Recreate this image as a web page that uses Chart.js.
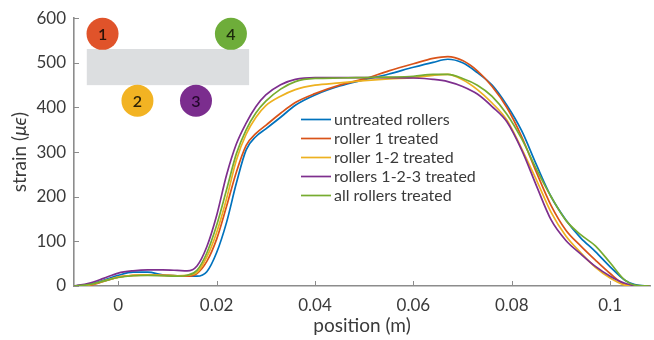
<!DOCTYPE html>
<html>
<head>
<meta charset="utf-8">
<script src="https://cdn.jsdelivr.net/npm/chart.js@4.4.1/dist/chart.umd.min.js"></script>
<style>
  html, body { margin: 0; padding: 0; background: #ffffff; }
  #wrap { width: 654px; height: 340px; }
</style>
</head>
<body>
<div id="wrap"><canvas id="c" width="654" height="340"></canvas></div>
<script>
// Measurement positions along the strip (m)
const positions = [-0.009, -0.006, -0.003, 0, 0.003, 0.006, 0.009, 0.012, 0.014, 0.016,
  0.018, 0.020, 0.022, 0.024, 0.026, 0.028, 0.030, 0.033, 0.036, 0.040,
  0.045, 0.050, 0.055, 0.060, 0.064, 0.067, 0.070, 0.073, 0.076, 0.079,
  0.082, 0.085, 0.088, 0.091, 0.094, 0.097, 0.100, 0.103, 0.105, 0.108];

// Strain readings (microstrain) for each roller treatment
const untreated = [0, 4, 13, 24, 31, 31, 25, 23, 22, 22,
  32, 75, 142, 230, 305, 335, 352, 378, 405, 428,
  448, 462, 475, 490, 501, 508, 500, 478, 450, 405,
  348, 272, 200, 148, 108, 77, 43, 13, 3, 0];
const roller1 = [0, 1, 10, 20, 24, 25, 24, 23, 22, 28,
  55, 105, 178, 255, 315, 342, 360, 387, 411, 431,
  450, 464, 482, 498, 510, 514, 505, 482, 447, 400,
  335, 255, 180, 125, 90, 58, 28, 3, 0, 0];
const roller12 = [0, 2, 11, 20, 24, 25, 24, 23, 24, 30,
  65, 120, 195, 282, 340, 378, 404, 425, 440, 450,
  455, 460, 464, 467, 472, 474, 462, 440, 410, 372,
  308, 238, 165, 112, 75, 42, 18, 2, 0, 0];
const rollers123 = [0, 6, 17, 29, 34, 36, 36, 35, 34, 45,
  88, 158, 248, 318, 365, 402, 428, 451, 463, 467,
  467, 467, 467, 466, 463, 458, 447, 430, 402, 368,
  305, 225, 148, 102, 72, 44, 22, 6, 1, 0];
const allRollers = [0, 3, 11, 19, 23, 24, 23, 22, 24, 35,
  74, 136, 215, 296, 350, 388, 414, 441, 458, 465,
  466, 467, 468, 470, 474, 474, 465, 450, 425, 385,
  330, 262, 200, 147, 115, 90, 52, 13, 2, 0];

const seriesNames = ['untreated rollers', 'roller 1 treated', 'roller 1-2 treated', 'rollers 1-2-3 treated', 'all rollers treated'];
const seriesValues = [untreated, roller1, roller12, rollers123, allRollers];
const seriesColors = ['#0072BD', '#D95319', '#EDB120', '#7E2F8E', '#77AC30'];

const xTicks = [0, 0.02, 0.04, 0.06, 0.08, 0.1];
const xTickLabels = ['0', '0.02', '0.04', '0.06', '0.08', '0.1'];
const yTicks = [0, 100, 200, 300, 400, 500, 600];

// Sketch of the roller arrangement drawn in the upper-left corner (data units)
const stripBox = { x0: -0.0064, x1: 0.0266, y0: 450, y1: 531, color: '#DCDEE0' };
const rollerMarks = [
  { label: '1', x: -0.0032, y: 565, fill: '#E0532A', ink: '#2a1208' },
  { label: '4', x: 0.0229, y: 565, fill: '#6EAD3A', ink: '#1c2a0c' },
  { label: '2', x: 0.0039, y: 415, fill: '#F2B323', ink: '#2e2206' },
  { label: '3', x: 0.0158, y: 415, fill: '#7B2D8E', ink: '#24082c' }
];

const FONT = 'Lato, "Open Sans", sans-serif';
const INK = '#3a3a3a';
const AXIS = '#8c8c8c';

const datasets = seriesNames.map((name, i) => ({
  label: name,
  data: positions.map((p, k) => ({ x: p, y: seriesValues[i][k] })),
  borderColor: seriesColors[i],
  backgroundColor: seriesColors[i],
  borderWidth: 1.7,
  pointRadius: 0,
  cubicInterpolationMode: 'monotone',
  fill: false,
  order: seriesNames.length - i
}));

const decorations = {
  id: 'decorations',
  beforeDatasetsDraw(chart) {
    const { ctx, scales: { x, y } } = chart;
    ctx.save();
    // strip
    const bx0 = x.getPixelForValue(stripBox.x0), bx1 = x.getPixelForValue(stripBox.x1);
    const by0 = y.getPixelForValue(stripBox.y1), by1 = y.getPixelForValue(stripBox.y0);
    ctx.fillStyle = stripBox.color;
    ctx.fillRect(bx0, by0, bx1 - bx0, by1 - by0);
    // rollers
    rollerMarks.forEach(m => {
      const cx = x.getPixelForValue(m.x), cy = y.getPixelForValue(m.y);
      ctx.beginPath();
      ctx.arc(cx, cy, 16, 0, Math.PI * 2);
      ctx.fillStyle = m.fill;
      ctx.fill();
      ctx.fillStyle = m.ink;
      ctx.font = '600 16px ' + FONT;
      ctx.textAlign = 'center';
      ctx.textBaseline = 'middle';
      ctx.fillText(m.label, cx, cy + 1);
    });
    ctx.restore();
  },
  afterDraw(chart) {
    const { ctx, chartArea: a, scales: { x, y } } = chart;
    ctx.save();
    // inward tick marks
    ctx.strokeStyle = AXIS;
    ctx.lineWidth = 1;
    xTicks.forEach(v => {
      const px = Math.round(x.getPixelForValue(v)) + 0.5;
      ctx.beginPath(); ctx.moveTo(px, a.bottom); ctx.lineTo(px, a.bottom - 5); ctx.stroke();
    });
    yTicks.forEach(v => {
      const py = Math.round(y.getPixelForValue(v)) + 0.5;
      ctx.beginPath(); ctx.moveTo(a.left, py); ctx.lineTo(a.left + 5, py); ctx.stroke();
    });

    // axis titles
    ctx.fillStyle = INK;
    ctx.font = '19px ' + FONT;
    ctx.textAlign = 'center';
    ctx.textBaseline = 'middle';
    ctx.fillText('position (m)', (a.left + a.right) / 2, 326);

    ctx.translate(20, (a.top + a.bottom) / 2);
    ctx.rotate(-Math.PI / 2);
    const parts = [['strain (', '19px ' + FONT], ['μϵ', 'italic 19px ' + FONT], [')', '19px ' + FONT]];
    let total = 0;
    parts.forEach(p => { ctx.font = p[1]; total += ctx.measureText(p[0]).width; });
    let cur = -total / 2;
    ctx.textAlign = 'left';
    parts.forEach(p => { ctx.font = p[1]; ctx.fillText(p[0], cur, 0); cur += ctx.measureText(p[0]).width; });
    ctx.setTransform(1, 0, 0, 1, 0, 0);

    // legend
    const lx = 301, ly = 119.5, gap = 19;
    ctx.font = '16px ' + FONT;
    ctx.textAlign = 'left';
    ctx.textBaseline = 'middle';
    chart.data.datasets.forEach((ds, i) => {
      const yy = ly + i * gap;
      ctx.strokeStyle = ds.borderColor;
      ctx.lineWidth = 1.7;
      ctx.beginPath(); ctx.moveTo(lx, yy); ctx.lineTo(lx + 30, yy); ctx.stroke();
      ctx.fillStyle = INK;
      ctx.fillText(ds.label, lx + 33, yy);
    });
    ctx.restore();
  }
};

new Chart(document.getElementById('c'), {
  type: 'line',
  data: { datasets },
  options: {
    responsive: false,
    devicePixelRatio: 1,
    animation: false,
    layout: { padding: { top: 15, right: 4, left: 0, bottom: 0 } },
    plugins: { legend: { display: false }, tooltip: { enabled: false } },
    scales: {
      x: {
        type: 'linear',
        min: -0.0090,
        max: 0.1081,
        afterBuildTicks: s => { s.ticks = xTicks.map(v => ({ value: v })); },
        afterFit: s => { s.height = 54; },
        grid: { display: true, drawOnChartArea: false, drawTicks: false },
        border: { display: true, color: AXIS, width: 1.6 },
        ticks: {
          padding: 9,
          color: INK,
          font: { family: FONT, size: 17 },
          maxRotation: 0,
          callback: (v) => { const k = xTicks.findIndex(t => Math.abs(t - v) < 1e-9); return k >= 0 ? xTickLabels[k] : ''; }
        }
      },
      y: {
        type: 'linear',
        min: 0,
        max: 600,
        afterBuildTicks: s => { s.ticks = yTicks.map(v => ({ value: v })); },
        afterFit: s => { s.width = 74; },
        grid: { display: true, drawOnChartArea: false, drawTicks: false },
        border: { display: true, color: AXIS, width: 1.6 },
        ticks: { padding: 8, color: INK, font: { family: FONT, size: 17 } }
      }
    }
  },
  plugins: [decorations]
});
</script>
</body>
</html>
